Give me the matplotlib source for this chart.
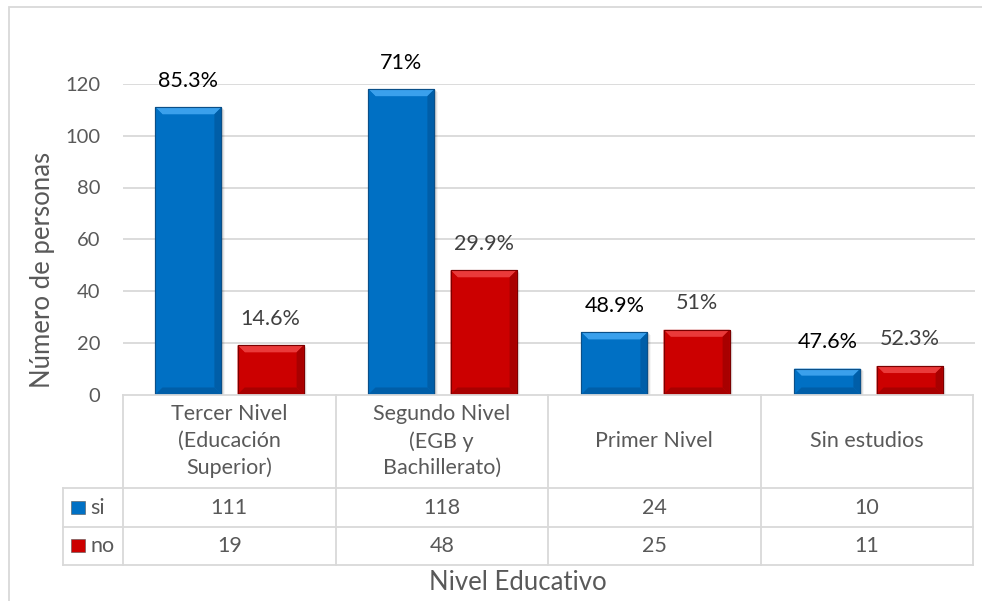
import numpy as np
import matplotlib
matplotlib.use("Agg")
import matplotlib.pyplot as plt
from matplotlib.patches import Polygon, Rectangle
from matplotlib.lines import Line2D

plt.rcParams['font.family'] = ['Lato', 'DejaVu Sans']

# data
categorias = ["Tercer Nivel\n(Educación\nSuperior)", "Segundo Nivel\n(EGB y\nBachillerato)",
              "Primer Nivel", "Sin estudios"]
si = [111, 118, 24, 10]
no = [19, 48, 25, 11]
si_pct = ["85.3%", "71%", "48.9%", "47.6%"]
no_pct = ["14.6%", "29.9%", "51%", "52.3%"]
yticks = [0, 20, 40, 60, 80, 100, 120]

W, H = 982, 601
fig = plt.figure(figsize=(W / 100, H / 100), dpi=100)

def fx(px):
    return px / W

def fy(py):
    return 1 - py / H

GRID = "#d9d9d9"
TXT = "#595959"
FS = 14.5
FS_TAB = 15.5
FS_TIT = 18.5

# plot area
ax = fig.add_axes([fx(123), fy(394.5), fx(975) - fx(123), fy(84) - fy(394.5)])
ax.set_xlim(-0.5, 3.5)
ax.set_ylim(0, 120)
for s in ax.spines.values():
    s.set_visible(False)
ax.set_yticks(yticks)
ax.tick_params(axis='y', length=0, pad=16.5, labelsize=FS, labelcolor=TXT)
ax.set_xticks([])
for t in yticks[1:]:
    ax.axhline(t, color=GRID, lw=1.3, zorder=0)

bw = 0.31
off = 0.193
x = np.arange(len(categorias))

def bevel_bar(xc, h, face, light, dark, edge):
    x0, x1 = xc - bw / 2, xc + bw / 2
    # bevel size in data units (about 7 px)
    dx = 7 / 212.5
    dy = min(7 / 2.5875, h / 3)
    # soft shadow
    for i, a in enumerate([0.10, 0.07, 0.04]):
        ax.add_patch(Rectangle((x0 + (i + 1) * 0.006, -0.5), bw, h + 0.5 - (i + 1) * 0.3,
                               color="black", alpha=a, lw=0, zorder=1))
    ax.add_patch(Rectangle((x0, 0), bw, h, facecolor=face, edgecolor=edge, lw=0.8, zorder=2))
    ax.add_patch(Polygon([(x0, h), (x1, h), (x1 - dx, h - dy), (x0 + dx, h - dy)],
                         closed=True, facecolor=light, lw=0, zorder=3))
    ax.add_patch(Polygon([(x0, 0), (x0, h), (x0 + dx, h - dy), (x0 + dx, dy)],
                         closed=True, facecolor=face, lw=0, zorder=3))
    ax.add_patch(Polygon([(x1, 0), (x1, h), (x1 - dx, h - dy), (x1 - dx, dy)],
                         closed=True, facecolor=dark, lw=0, zorder=3))
    ax.add_patch(Polygon([(x0, 0), (x1, 0), (x1 - dx, dy), (x0 + dx, dy)],
                         closed=True, facecolor=dark, lw=0, zorder=3))
    ax.add_patch(Rectangle((x0, 0), bw, h, facecolor="none", edgecolor=edge, lw=0.8, zorder=4))

for i in x:
    bevel_bar(i - off, si[i], "#0070c4", "#3aa0ec", "#005ea8", "#0a4f88")
    bevel_bar(i + off, no[i], "#cc0000", "#ea3a3a", "#a80000", "#7a0000")
    ax.annotate(si_pct[i], (i - off, si[i]), xytext=(0, 12), textcoords="offset points",
                ha="center", va="bottom", fontsize=FS_TAB, color="black", annotation_clip=False)
    ax.annotate(no_pct[i], (i + off, no[i]), xytext=(0, 12), textcoords="offset points",
                ha="center", va="bottom", fontsize=FS_TAB, color="#404040", annotation_clip=False)

# data table below the plot
def hline(y, x0, x1):
    fig.add_artist(Line2D([fx(x0), fx(x1)], [fy(y), fy(y)], color=GRID, lw=1.3))

def vline(xp, y0, y1):
    fig.add_artist(Line2D([fx(xp), fx(xp)], [fy(y0), fy(y1)], color=GRID, lw=1.3))

cols = np.linspace(123, 973, 5)
rows = [394.5, 488, 527, 565]
hline(rows[0], 123, 973)
for r in rows[1:]:
    hline(r, 63, 973)
for c in cols:
    vline(c, rows[0], rows[3])
vline(63, rows[1], rows[3])

for i, cat in enumerate(categorias):
    cx = (cols[i] + cols[i + 1]) / 2
    fig.text(fx(cx), fy((rows[0] + rows[1]) / 2), cat, ha="center", va="center",
             fontsize=FS_TAB, color=TXT, linespacing=1.4)
    fig.text(fx(cx), fy((rows[1] + rows[2]) / 2), str(si[i]), ha="center", va="center",
             fontsize=FS_TAB, color=TXT)
    fig.text(fx(cx), fy((rows[2] + rows[3]) / 2), str(no[i]), ha="center", va="center",
             fontsize=FS_TAB, color=TXT)

# legend keys in the table
for r, lab, col in [(0, "si", "#0070c4"), (1, "no", "#cc0000")]:
    yc = (rows[1 + r] + rows[2 + r]) / 2
    fig.add_artist(Rectangle((fx(71), fy(yc + 6)), fx(14), fy(0) - fy(13),
                             facecolor=col, edgecolor="#555555", lw=0.4))
    fig.text(fx(90), fy(yc), lab, ha="left", va="center", fontsize=FS_TAB, color=TXT)

fig.text(fx(518), fy(583), "Nivel Educativo", ha="center", va="center", fontsize=FS_TIT, color=TXT)
fig.text(fx(43), fy(270), "Número de personas", ha="center", va="center", rotation=90,
         fontsize=FS_TIT, color=TXT)

# chart border
fig.add_artist(Rectangle((fx(9), fy(1000)), 2, fy(7) - fy(1000), fill=False,
                         edgecolor=GRID, lw=1.3))

fig.savefig("out.png", dpi=100, facecolor="white")
